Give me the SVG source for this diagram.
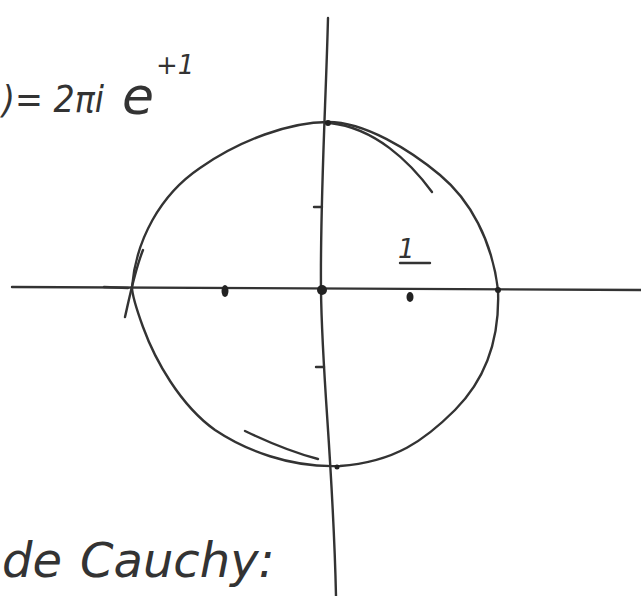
<svg xmlns="http://www.w3.org/2000/svg" width="641" height="596" viewBox="0 0 641 596">
<style>
.ink{fill:none;stroke:#333;stroke-width:2.4;stroke-linecap:round;stroke-linejoin:round}
.dot{fill:#222}
.hand{font-family:"DejaVu Sans","Liberation Sans",sans-serif;fill:#333;font-style:italic}
</style>
<rect width="641" height="596" fill="#fff"/>
<g id="formula">
<text class="hand" x="2" y="112" font-size="38" textLength="102" lengthAdjust="spacingAndGlyphs">)= 2πi</text>
<text class="hand" x="122" y="114" font-size="52">e</text>
<text class="hand" x="156" y="74" font-size="26">+1</text>
</g>
<g id="connectors">
<path class="ink" d="M12,287 L641,290"/>
<path class="ink" d="M328,18 C326,100 320,200 321,290 C322,380 333,460 336,596"/>
<path class="ink" d="M104,287 L128,288" stroke-width="4"/>
</g>
<g id="contour">
<path class="ink" d="M132,287 C136,240 160,195 200,168 C240,140 290,122 328,122 C365,122 410,150 440,175 C470,200 492,240 498,290 C500,340 485,380 455,410 C425,440 395,462 340,466 C290,468 245,450 215,430 C180,405 155,360 143,327 C135,305 132,295 132,287 Z"/>
<path class="ink" d="M330,123 C375,128 410,162 432,192"/>
<path class="ink" d="M245,431 C270,443 295,453 318,459"/>
<path class="ink" d="M143,250 C135,270 130,295 125,317"/>
</g>
<g id="ticks">
<path class="ink" d="M314,207 L322,207 M316,367 L324,367"/>
</g>
<g id="points">
<ellipse class="dot" cx="225" cy="291" rx="3.5" ry="6"/>
<circle class="dot" cx="322" cy="290" r="5"/>
<ellipse class="dot" cx="410" cy="297" rx="3.5" ry="5"/>
<circle class="dot" cx="498" cy="290" r="3"/>
<circle class="dot" cx="337" cy="467" r="2.5"/>
<circle class="dot" cx="328" cy="123" r="3"/>
</g>
<g id="label-half">
<text class="hand" x="398" y="258" font-size="26">1</text>
<path class="ink" d="M400,263 L430,263"/>
</g>
<g id="caption">
<text class="hand" y="577" font-size="48"><tspan x="2">de</tspan><tspan x="80">Cauchy:</tspan></text>
</g>
</svg>
